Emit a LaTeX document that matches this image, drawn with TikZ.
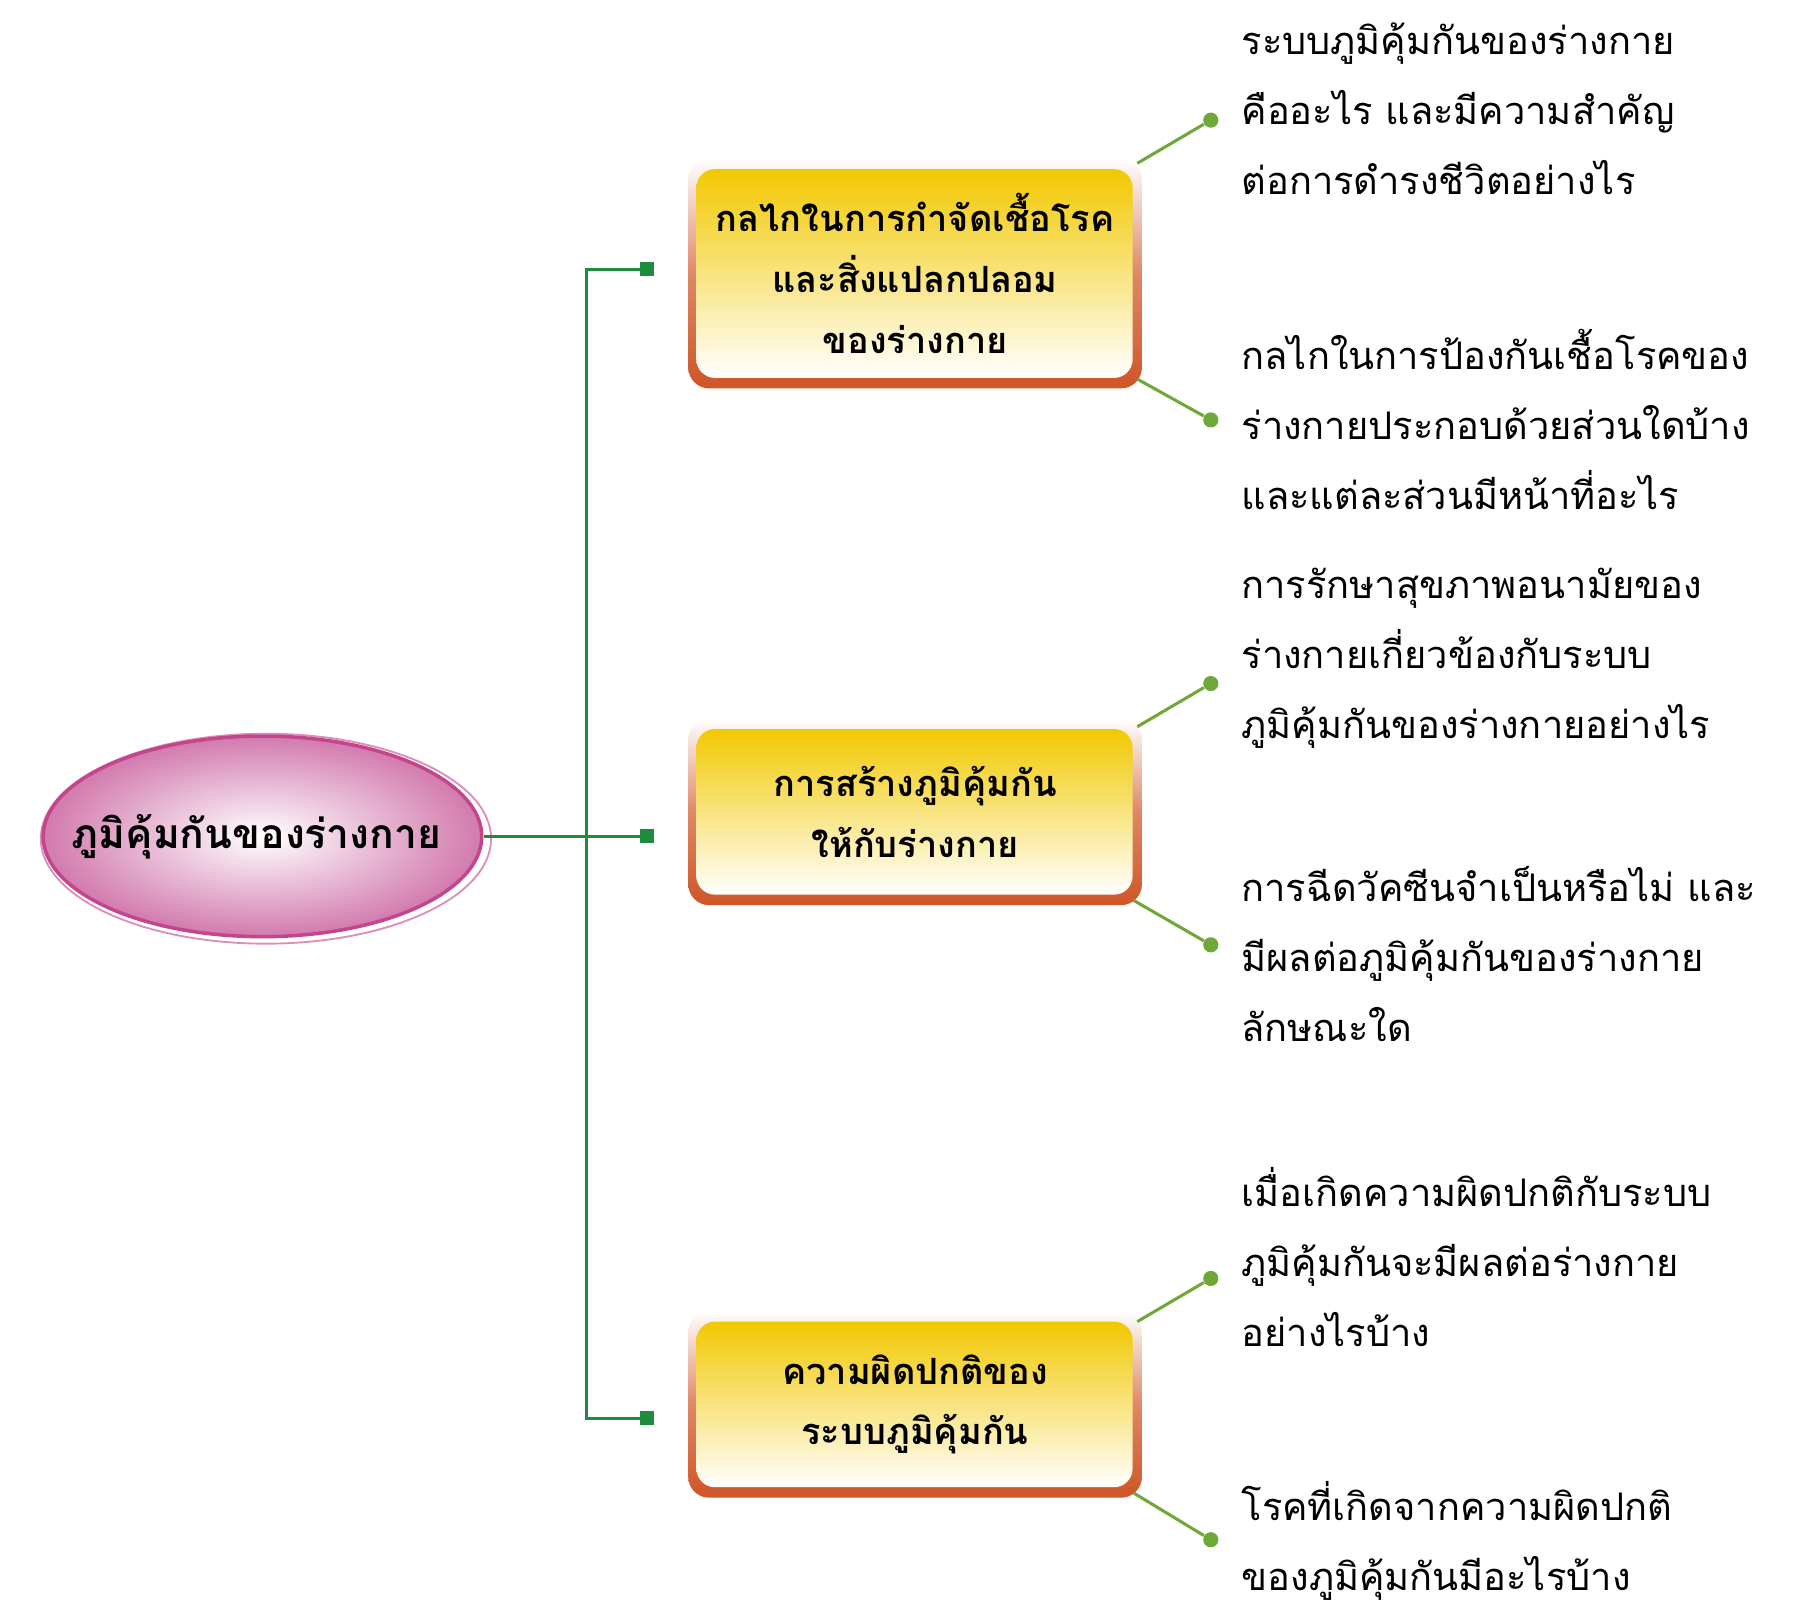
\documentclass[tikz,border=0pt]{standalone}
\usepackage{fontspec}
\newfontfamily\thai[Script=Thai]{Loma}
\usetikzlibrary{shapes.geometric}
\definecolor{yel}{HTML}{F2C800}
\definecolor{brd}{HTML}{CF5526}
\definecolor{grn}{HTML}{1E8C3C}
\definecolor{lgr}{HTML}{6DA838}
\definecolor{pk}{HTML}{D27AAE}
\definecolor{mg}{HTML}{C4458C}
\tikzset{
 boxtext/.style={font=\thai\bfseries\fontsize{15.5}{26}\selectfont, align=center, minimum width=194.5pt, inner sep=0pt},
 sq/.style={fill=grn, minimum size=6pt, inner sep=0pt},
 dotg/.style={circle, fill=lgr, minimum size=6.5pt, inner sep=0pt},
 tl/.style={draw=grn, line width=1.3pt},
 gl/.style={draw=lgr, line width=1.3pt},
 qtext/.style={font=\thai\fontsize{16.3}{30}\selectfont, align=left, anchor=north west, inner sep=0pt}
}
\begin{document}
\begin{tikzpicture}[x=0.5pt,y=-0.5pt]
\useasboundingbox (0,0) rectangle (1550,1384);
% boxes frames
\foreach \a/\b in {136/333, 616/776, 1124/1284}{
 \shade[rounded corners=9pt, top color=white, bottom color=brd, middle color=brd!70] (590,\a) rectangle (979,\b);
}
\shade[rounded corners=8pt, top color=yel, bottom color=white] (597,145) rectangle (971,324);
\shade[rounded corners=8pt, top color=yel, bottom color=white] (597,625) rectangle (971,767);
\shade[rounded corners=8pt, top color=yel, bottom color=white] (597,1133) rectangle (971,1275);
\node[boxtext, minimum height=98.5pt] (b1) at (784.5,234.5) {กลไกในการกำจัดเชื้อโรค\\และสิ่งแปลกปลอม\\ของร่างกาย};
\node[boxtext, minimum height=80pt] (b2) at (784.5,696) {การสร้างภูมิคุ้มกัน\\ให้กับร่างกาย};
\node[boxtext, minimum height=80pt] (b3) at (784.5,1204) {ความผิดปกติของ\\ระบบภูมิคุ้มกัน};
% root
\draw[mg!60, line width=0.8pt] (228,719) ellipse [x radius=193, y radius=90];
\shade[inner color=white, outer color=pk, draw=mg, line width=1.5pt] (225,717) ellipse [x radius=188, y radius=86];
\node[font=\thai\bfseries\fontsize{17.5}{20}\selectfont, inner sep=0pt] (root) at (220,717) {ภูมิคุ้มกันของร่างกาย};
% trunk
\node[sq] (s1) at (555,231) {};
\node[sq] (s2) at (555,717) {};
\node[sq] (s3) at (555,1216) {};
\coordinate (j1) at (503,231);
\coordinate (j3) at (503,1216);
\coordinate (re) at (415,717);
\draw[tl] (re) -- (s2);
\draw[tl] (s1) -- (j1) -- (j3) -- (s3);
% dots
\node[dotg] (d1) at (1038,103) {};
\node[dotg] (d2) at (1038,360) {};
\node[dotg] (d3) at (1038,586) {};
\node[dotg] (d4) at (1038,810) {};
\node[dotg] (d5) at (1038,1096) {};
\node[dotg] (d6) at (1038,1320) {};
\coordinate (c1) at (975,140); \coordinate (c2) at (975,325);
\coordinate (c3) at (975,623); \coordinate (c4) at (972,772);
\coordinate (c5) at (975,1133); \coordinate (c6) at (972,1280);
\draw[gl] (c1)--(d1); \draw[gl] (c2)--(d2); \draw[gl] (c3)--(d3);
\draw[gl] (c4)--(d4); \draw[gl] (c5)--(d5); \draw[gl] (c6)--(d6);
% questions
\node[qtext] (q1) at (1064,19) {ระบบภูมิคุ้มกันของร่างกาย\\คืออะไร และมีความสำคัญ\\ต่อการดำรงชีวิตอย่างไร};
\node[qtext] (q2) at (1064,282) {กลไกในการป้องกันเชื้อโรคของ\\ร่างกายประกอบด้วยส่วนใดบ้าง\\และแต่ละส่วนมีหน้าที่อะไร};
\node[qtext] (q3) at (1064,487) {การรักษาสุขภาพอนามัยของ\\ร่างกายเกี่ยวข้องกับระบบ\\ภูมิคุ้มกันของร่างกายอย่างไร};
\node[qtext] (q4) at (1064,742) {การฉีดวัคซีนจำเป็นหรือไม่ และ\\มีผลต่อภูมิคุ้มกันของร่างกาย\\ลักษณะใด};
\node[qtext] (q5) at (1064,1000) {เมื่อเกิดความผิดปกติกับระบบ\\ภูมิคุ้มกันจะมีผลต่อร่างกาย\\อย่างไรบ้าง};
\node[qtext] (q6) at (1064,1270) {โรคที่เกิดจากความผิดปกติ\\ของภูมิคุ้มกันมีอะไรบ้าง};
\end{tikzpicture}
\end{document}
